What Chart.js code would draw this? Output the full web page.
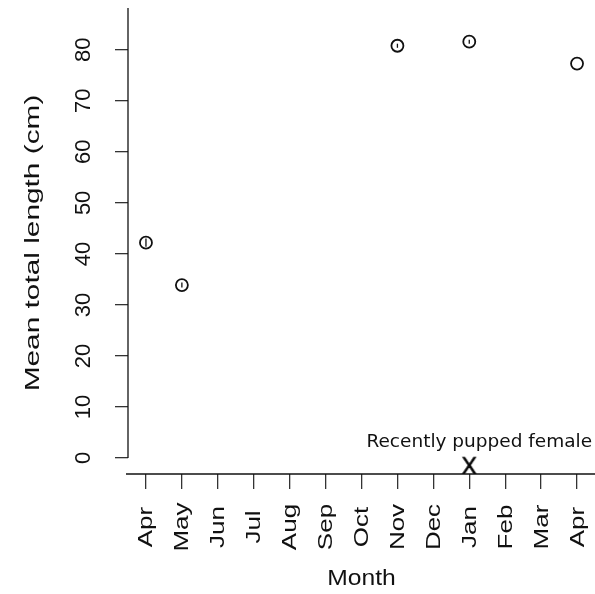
<!DOCTYPE html>
<html>
<head>
<meta charset="utf-8">
<script src="https://cdn.jsdelivr.net/npm/chart.js@4/dist/chart.umd.min.js"></script>
<style>
  body { margin: 0; background: #fff; }
  #wrap { width: 595px; height: 594px; }
</style>
</head>
<body>
<div id="wrap"><canvas id="myChart"></canvas></div>
<script>
const months = ["Apr", "May", "Jun", "Jul", "Aug", "Sep", "Oct", "Nov", "Dec", "Jan", "Feb", "Mar", "Apr"];
const meanLength = [42.2, 33.9, null, null, null, null, null, 80.8, null, 81.6, null, null, 77.3];
const lengthErr = [0.8, 0.5, null, null, null, null, null, 0.4, null, 0.4, null, null, 0];
const puppedFemale = [null, null, null, null, null, null, null, null, null, -1.8, null, null, null];
const yTicks = [0, 10, 20, 30, 40, 50, 60, 70, 80];
const noteText = "Recently pupped female";
const noteValue = 3.1;
const noteIndex = 9;

const sansFont = "'Liberation Sans', Arial, sans-serif";
const ink = "#111";

// the "X" marker is a glyph, so make a small canvas to use as point style
const xMark = document.createElement("canvas");
xMark.width = 18;
xMark.height = 22;
{
  const c = xMark.getContext("2d");
  c.fillStyle = "#000";
  c.strokeStyle = "#000";
  c.lineWidth = 0.6;
  c.font = "23px " + sansFont;
  c.textAlign = "center";
  c.textBaseline = "middle";
  c.fillText("X", 9, 12);
  c.strokeText("X", 9, 12);
}

// text drawn with a stretch along its own direction
function stretchedText(ctx, text, x, y, angle, stretch) {
  ctx.save();
  ctx.translate(x, y);
  ctx.rotate(angle);
  ctx.scale(stretch, 1);
  ctx.fillText(text, 0, 0);
  ctx.restore();
}

// axis lines, labels, error bars and note drawn on top of the chart
const extras = {
  id: "extras",
  afterDatasetsDraw(chart) {
    const ctx = chart.ctx;
    const x = chart.scales.x;
    const y = chart.scales.y;
    const area = chart.chartArea;
    ctx.save();
    ctx.strokeStyle = ink;
    ctx.lineWidth = 1.3;

    // y axis line from 0 up to the top
    ctx.beginPath();
    ctx.moveTo(area.left, area.top);
    ctx.lineTo(area.left, y.getPixelForValue(0));
    ctx.stroke();
    // x axis line
    ctx.beginPath();
    ctx.moveTo(area.left - 2, area.bottom);
    ctx.lineTo(area.right, area.bottom);
    ctx.stroke();

    // small error bars inside the circles
    meanLength.forEach((v, i) => {
      if (v === null || !lengthErr[i]) return;
      const px = x.getPixelForValue(i);
      ctx.beginPath();
      ctx.moveTo(px, y.getPixelForValue(v - lengthErr[i]));
      ctx.lineTo(px, y.getPixelForValue(v + lengthErr[i]));
      ctx.stroke();
    });

    ctx.fillStyle = ink;
    ctx.textAlign = "center";
    ctx.textBaseline = "middle";

    // y tick labels, rotated
    ctx.font = "22px " + sansFont;
    yTicks.forEach(v => stretchedText(ctx, String(v), 84, y.getPixelForValue(v), -Math.PI / 2, 1));

    // x tick labels, rotated and centred
    ctx.font = "20px " + sansFont;
    months.forEach((m, i) => stretchedText(ctx, m, x.getPixelForValue(i) + 1, 527, -Math.PI / 2, 1.3));

    // axis titles
    ctx.font = "22px " + sansFont;
    stretchedText(ctx, "Month", (area.left + area.right) / 2, 579, 0, 1.12);
    ctx.font = "21px " + sansFont;
    stretchedText(ctx, "Mean total length (cm)", 33, 243, -Math.PI / 2, 1.42);

    // note
    ctx.font = "18.5px 'DejaVu Sans', sans-serif";
    ctx.fillText(noteText, x.getPixelForValue(noteIndex) + 10, y.getPixelForValue(noteValue));
    ctx.restore();
  }
};

new Chart("myChart", {
  type: "line",
  data: {
    labels: months,
    datasets: [
      {
        label: "Mean total length",
        data: meanLength,
        showLine: false,
        pointStyle: "circle",
        pointRadius: 6,
        pointBorderWidth: 1.8,
        pointBorderColor: ink,
        pointBackgroundColor: "rgba(0,0,0,0)",
      },
      {
        label: "Recently pupped female",
        data: puppedFemale,
        showLine: false,
        pointStyle: xMark,
      },
    ],
  },
  options: {
    responsive: true,
    maintainAspectRatio: false,
    animation: false,
    layout: { autoPadding: false, padding: { top: 8, right: 0, left: 0, bottom: 0 } },
    plugins: {
      legend: { display: false },
      tooltip: { enabled: false },
    },
    scales: {
      x: {
        type: "category",
        offset: true,
        grid: {
          drawOnChartArea: false,
          drawTicks: true,
          tickLength: 15,
          color: "#333",
          lineWidth: 1.3,
          offset: false,
        },
        border: { display: false },
        ticks: { display: false },
        afterFit: (scale) => { scale.height = 120; },
      },
      y: {
        min: -3.14,
        max: 88.2,
        grid: {
          drawOnChartArea: false,
          drawTicks: true,
          tickLength: 13,
          color: "#333",
          lineWidth: 1.3,
        },
        border: { display: false },
        ticks: { display: false },
        afterBuildTicks: (scale) => { scale.ticks = yTicks.map(v => ({ value: v })); },
        afterFit: (scale) => { scale.width = 128; },
      },
    },
  },
  plugins: [extras],
});
</script>
</body>
</html>
